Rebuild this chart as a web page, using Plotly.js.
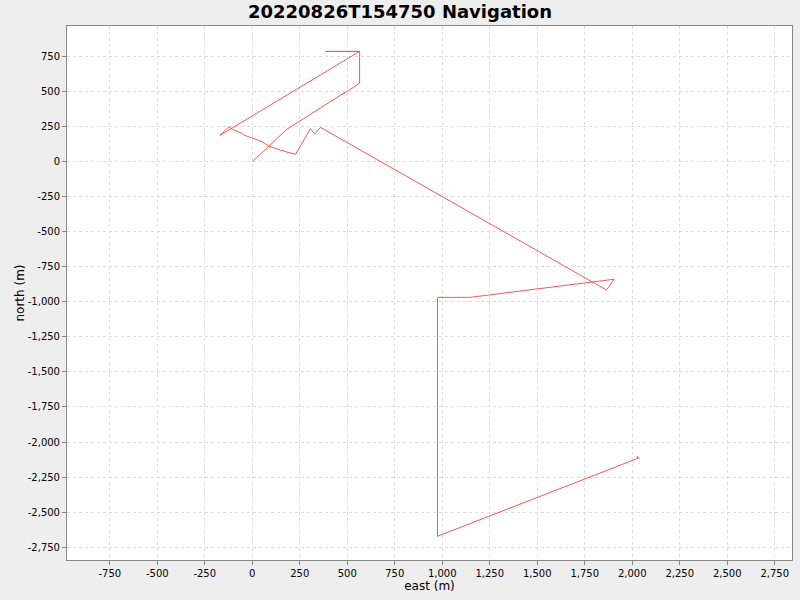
<!DOCTYPE html>
<html>
<head>
<meta charset="utf-8">
<script src="https://cdn.plot.ly/plotly-3.0.1.min.js"></script>
<style>html,body{margin:0;padding:0;background:#EEEEEE;}#chart{width:800px;height:600px;}</style>
</head>
<body>
<div id="chart"></div>
<script>
// Navigation track (east, north) in metres
const east = [2, 184, 402, 464, 485, 476, 565, 565, 385, 565, -170, -123, -105, -53, -44, 53, 87, 150, 158, 163, 166, 228, 263, 306, 329, 359, 1865, 1905, 1147, 975, 975, 2031, 2026, 2040];
const north = [0, 230, 417, 467, 489, 478, 556, 783, 783, 783, 185, 246, 228, 199, 187, 140, 109, 80, 75, 81, 72, 50, 128, 232, 194, 242, -917, -840, -969, -969, -2671, -2115, -2100, -2118];

const xTickVals = [-750, -500, -250, 0, 250, 500, 750, 1000, 1250, 1500, 1750, 2000, 2250, 2500, 2750];
const xTickText = ['-750', '-500', '-250', '0', '250', '500', '750', '1,000', '1,250', '1,500', '1,750', '2,000', '2,250', '2,500', '2,750'];
const yTickVals = [-2750, -2500, -2250, -2000, -1750, -1500, -1250, -1000, -750, -500, -250, 0, 250, 500, 750];
const yTickText = ['-2,750', '-2,500', '-2,250', '-2,000', '-1,750', '-1,500', '-1,250', '-1,000', '-750', '-500', '-250', '0', '250', '500', '750'];

const FONT = 'DejaVu Sans, Verdana, sans-serif';

const trace = {
  x: east, y: north, type: 'scatter', mode: 'lines',
  line: {color: '#FF5555', width: 1},
  hoverinfo: 'skip', showlegend: false
};

const axisCommon = {
  showgrid: true, gridcolor: '#DCDCDC', gridwidth: 1, griddash: '3px,3px',
  zeroline: false, showline: true, linecolor: '#888888', linewidth: 1, mirror: true,
  ticks: 'outside', ticklen: 4, tickcolor: '#888888', tickwidth: 1,
  tickmode: 'array', tickfont: {family: FONT, size: 10, color: '#000'},
  automargin: false
};

const layout = {
  width: 800, height: 600,
  paper_bgcolor: '#EEEEEE', plot_bgcolor: '#FFFFFF',
  margin: {l: 67, r: 8, t: 26, b: 40, pad: 0},
  title: {text: '<b>20220826T154750 Navigation</b>', font: {family: FONT, size: 18, color: '#000'},
          x: 0.5, xref: 'container', y: 0.98, yref: 'container', yanchor: 'middle'},
  xaxis: Object.assign({}, axisCommon, {
    range: [-975, 2841], tickvals: xTickVals, ticktext: xTickText,
    title: {text: 'east (m)', font: {family: FONT, size: 12, color: '#000'}, standoff: 3}
  }),
  yaxis: Object.assign({}, axisCommon, {
    range: [-2840, 964], tickvals: yTickVals, ticktext: yTickText,
    title: {text: 'north (m)', font: {family: FONT, size: 12, color: '#000'}, standoff: 0}
  })
};

Plotly.newPlot('chart', [trace], layout, {displayModeBar: false, staticPlot: true});
</script>
</body>
</html>
